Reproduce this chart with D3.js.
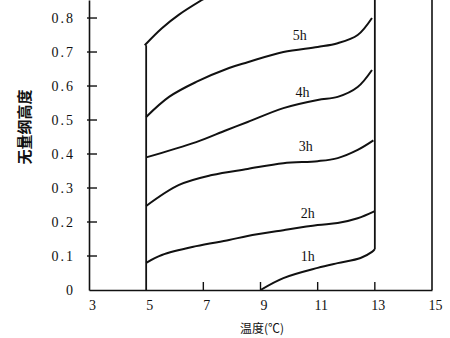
<!DOCTYPE html>
<html>
<head>
<meta charset="utf-8">
<script src="https://cdn.jsdelivr.net/npm/d3@7"></script>
<style>
  body { margin: 0; background: #fff; }
  svg text { font-family: "Liberation Serif", "DejaVu Serif", serif; fill: #111; }
</style>
</head>
<body>
<svg id="chart" width="450" height="338"></svg>
<script>
// temperature (x) and dimensionless height (y)
var h1x = [9, 9.8, 11.0, 11.7, 12.5, 12.9, 13];
var h1y = [0, 0.035, 0.065, 0.079, 0.094, 0.112, 0.12];
var h2x = [5, 5.55, 6.75, 7.9, 8.55, 9.8, 11.0, 11.7, 12.4, 13];
var h2y = [0.08, 0.103, 0.129, 0.147, 0.159, 0.176, 0.191, 0.197, 0.211, 0.232];
var h3x = [5, 6.15, 7.3, 8.55, 9.8, 11.0, 11.7, 12.4, 12.95];
var h3y = [0.247, 0.309, 0.338, 0.356, 0.373, 0.379, 0.388, 0.412, 0.44];
var h4x = [5, 6.75, 7.8, 8.55, 9.8, 11.0, 11.7, 12.4, 12.9];
var h4y = [0.39, 0.435, 0.47, 0.494, 0.535, 0.559, 0.568, 0.597, 0.647];
var h5x = [5, 5.8, 6.75, 7.9, 8.55, 9.8, 11.0, 11.7, 12.4, 12.9];
var h5y = [0.509, 0.568, 0.612, 0.653, 0.67, 0.70, 0.715, 0.726, 0.75, 0.80];
var h6x = [4.95, 5.55, 6.15, 6.95, 7.4];
var h6y = [0.72, 0.77, 0.81, 0.853, 0.875];

var seriesNames = ["1h", "2h", "3h", "4h", "5h"];
var labelX = [10.65, 10.65, 10.58, 10.47, 10.37];
var labelY = [0.094, 0.22, 0.418, 0.576, 0.744];

var xTicks = [3, 5, 7, 9, 11, 13, 15];
var yTicks = [0, 0.1, 0.2, 0.3, 0.4, 0.5, 0.6, 0.7, 0.8];

var svg = d3.select("#chart");

var xScale = d3.scaleLinear().domain([3, 15]).range([89, 432]);
var yScale = d3.scaleLinear().domain([0, 0.853]).range([290, 0]);

function zip(xs, ys) {
    var pts = [];
    for (var i = 0; i < xs.length; i++) {
        pts.push([xs[i], ys[i]]);
    }
    return pts;
}

var curves = [zip(h1x, h1y), zip(h2x, h2y), zip(h3x, h3y), zip(h4x, h4y), zip(h5x, h5y), zip(h6x, h6y)];

svg.append("defs").append("clipPath").attr("id", "plot")
    .append("rect")
    .attr("x", xScale(3)).attr("y", yScale(0.853))
    .attr("width", xScale(15) - xScale(3))
    .attr("height", yScale(0) - yScale(0.853));

// axes
var xAxis = d3.axisBottom(xScale).tickValues(xTicks).tickSize(0).tickPadding(10);
var gx = svg.append("g")
    .attr("transform", "translate(0," + yScale(0) + ")")
    .call(xAxis);
gx.select(".domain").attr("stroke", "#111").attr("stroke-width", 1.6);
gx.selectAll("text").style("font-size", "14px").attr("dx", 3);

var yAxis = d3.axisLeft(yScale).tickValues(yTicks).tickSize(0).tickPadding(14)
    .tickFormat(function (d) { return d === 0 ? "0" : d3.format(".1f")(d); });
var gy = svg.append("g")
    .attr("transform", "translate(" + xScale(3) + ",0)")
    .call(yAxis);
gy.select(".domain").attr("stroke", "#111").attr("stroke-width", 1.6);
gy.selectAll("text").style("font-size", "14px").style("letter-spacing", "2px");

// inner ticks
svg.append("g").selectAll("line")
    .data(yTicks.slice(1))
    .enter().append("line")
    .attr("x1", xScale(3) - 2).attr("x2", xScale(3) + 8)
    .attr("y1", function (d) { return yScale(d); })
    .attr("y2", function (d) { return yScale(d); })
    .attr("stroke", "#111").attr("stroke-width", 1.4);

svg.append("g").selectAll("line")
    .data([7, 9, 11, 13])
    .enter().append("line")
    .attr("x1", function (d) { return xScale(d); })
    .attr("x2", function (d) { return xScale(d); })
    .attr("y1", yScale(0)).attr("y2", yScale(0) - 8)
    .attr("stroke", "#111").attr("stroke-width", 1.4);

// right frame
svg.append("line")
    .attr("x1", xScale(15)).attr("x2", xScale(15))
    .attr("y1", yScale(0)).attr("y2", yScale(0.853))
    .attr("stroke", "#111").attr("stroke-width", 1.6);

// vertical parts at 5 and 13
svg.append("line")
    .attr("x1", xScale(5)).attr("x2", xScale(5))
    .attr("y1", yScale(0)).attr("y2", yScale(0.72))
    .attr("stroke", "#111").attr("stroke-width", 1.8);
svg.append("line")
    .attr("x1", xScale(13)).attr("x2", xScale(13))
    .attr("y1", yScale(0.12)).attr("y2", yScale(0.853))
    .attr("stroke", "#111").attr("stroke-width", 1.8);

var line = d3.line()
    .x(function (d) { return xScale(d[0]); })
    .y(function (d) { return yScale(d[1]); })
    .curve(d3.curveCatmullRom);

svg.append("g").attr("clip-path", "url(#plot)")
    .selectAll("path")
    .data(curves)
    .enter().append("path")
    .attr("d", line)
    .attr("fill", "none")
    .attr("stroke", "#111")
    .attr("stroke-width", 2);

svg.append("g").selectAll("text")
    .data(seriesNames)
    .enter().append("text")
    .attr("x", function (d, i) { return xScale(labelX[i]); })
    .attr("y", function (d, i) { return yScale(labelY[i]); })
    .attr("text-anchor", "middle")
    .attr("dominant-baseline", "middle")
    .style("font-size", "14px")
    .text(function (d) { return d; });

// axis titles
svg.append("text")
    .attr("x", 262).attr("y", 333)
    .attr("text-anchor", "middle")
    .style("font-size", "12px")
    .style("font-family", "'Noto Sans CJK SC', sans-serif")
    .text("温度(℃)");

svg.append("text")
    .attr("transform", "translate(30,127) rotate(-90)")
    .attr("text-anchor", "middle")
    .style("font-size", "15px")
    .style("font-family", "'Noto Sans CJK SC', sans-serif")
    .style("font-weight", "bold")
    .text("无量纲高度");
</script>
</body>
</html>
